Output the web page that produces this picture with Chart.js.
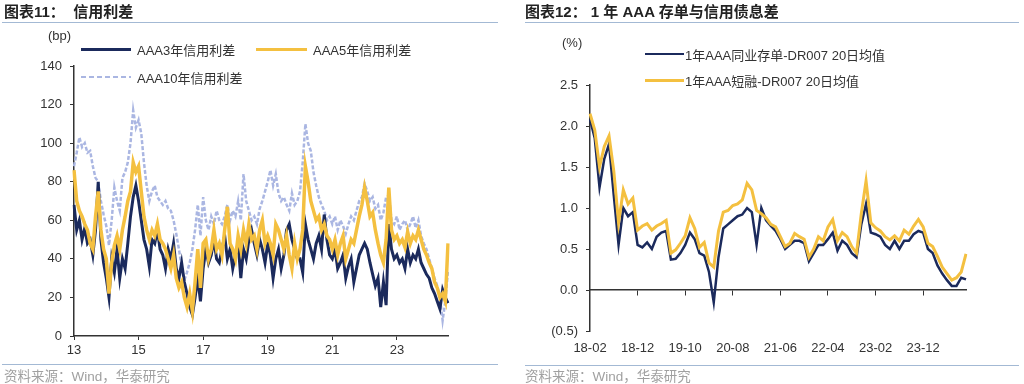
<!DOCTYPE html>
<html>
<head>
<meta charset="utf-8">
<script src="https://cdn.jsdelivr.net/npm/chart.js@4"></script>
<style>
  body { margin: 0; width: 1024px; height: 384px; background: #fff; position: relative; overflow: hidden;
         font-family: "Liberation Sans", "Noto Sans CJK SC", sans-serif; color: #222; }
  .panel { position: absolute; top: 0; width: 512px; height: 384px; }
  .panel canvas { position: absolute; left: 0; top: 0; }
  .title { position: absolute; top: 3px; font-size: 15px; line-height: 18px; font-weight: bold; white-space: nowrap; }
  .rule { position: absolute; height: 1px; background: #a3b9d4; }
  .src { position: absolute; top: 369px; font-size: 13.5px; line-height: 15px; color: #a0a0a0; white-space: nowrap; }
  .unit { position: absolute; font-size: 13px; color: #333; }
  .leg { position: absolute; font-size: 13px; color: #333; white-space: nowrap; display: flex; align-items: center; height: 16px; }
  .sw { display: inline-block; margin-right: 6px; }
</style>
</head>
<body>

<div class="panel" style="left:0">
  <canvas id="spreadChart" width="512" height="384"></canvas>
  <div class="title" style="left:4px">图表11：&nbsp; 信用利差</div>
  <div class="rule" style="left:2px; top:22px; width:496px"></div>
  <div class="unit" style="left:48px; top:28px">(bp)</div>
  <div class="leg" style="left:81px; top:41px"><span class="sw" style="width:50px;height:3px;background:#1b2a5c"></span>AAA3年信用利差</div>
  <div class="leg" style="left:256px; top:41px"><span class="sw" style="width:51px;height:3px;background:#f4c040"></span>AAA5年信用利差</div>
  <div class="leg" style="left:81px; top:69px"><span class="sw" style="width:50px;height:2px;background:repeating-linear-gradient(90deg,#aab6e2 0 5px,transparent 5px 8px)"></span>AAA10年信用利差</div>
  <div class="rule" style="left:2px; top:364px; width:496px"></div>
  <div class="src" style="left:4px">资料来源：Wind，华泰研究</div>
</div>

<div class="panel" style="left:512px">
  <canvas id="ncdChart" width="512" height="384"></canvas>
  <div class="title" style="left:13px">图表12：&nbsp;1 年 AAA 存单与信用债息差</div>
  <div class="rule" style="left:13px; top:22px; width:494px"></div>
  <div class="unit" style="left:50px; top:35px">(%)</div>
  <div class="leg" style="left:133px; top:46px"><span class="sw" style="width:39px;height:2px;margin-right:1px;background:#1b2a5c"></span>1年AAA同业存单-DR007 20日均值</div>
  <div class="leg" style="left:133px; top:72px"><span class="sw" style="width:39px;height:3px;margin-right:1px;background:#f4c040"></span>1年AAA短融-DR007 20日均值</div>
  <div class="rule" style="left:13px; top:365px; width:494px"></div>
  <div class="src" style="left:13px">资料来源：Wind，华泰研究</div>
</div>

<script>
// --- left chart: monthly credit spreads (bp), 2013-01 .. 2024-08 ---
const aaa3Spread = [
  68, 55, 60, 50, 56, 48, 50, 42, 55, 80, 50, 38,
  30, 20, 40, 33, 45, 30, 40, 35, 48, 62, 72, 78,
  70, 60, 50, 45, 36, 50, 48, 55, 45, 42, 35, 45,
  40, 48, 35, 30, 38, 28, 22, 15, 11, 20, 30, 18,
  35, 45, 38, 42, 50, 40, 38, 45, 52, 40, 45, 35,
  42, 48, 30, 45, 40, 50, 55, 48, 42, 50, 45, 38,
  48, 42, 30, 40, 45, 35, 42, 55, 58, 50, 45, 40,
  40, 33, 58, 50, 45, 40, 48, 52, 45, 63, 50, 42,
  40, 45, 35, 38, 42, 30, 36, 40, 28, 35, 42, 45,
  48, 45, 38, 32, 26, 30, 15, 28, 16, 58, 45, 40,
  42, 38, 40, 35, 45, 38, 42, 40, 45, 38, 35, 32,
  30, 25, 22, 18, 14, 24, 20, 17
];
const aaa5Spread = [
  86, 70, 65, 62, 58, 55, 48, 45, 62, 75, 55, 45,
  40, 22, 38, 47, 52, 45, 55, 62, 70, 75, 90, 85,
  88, 75, 62, 55, 50, 55, 52, 58, 50, 48, 45, 40,
  35, 42, 30, 25, 28, 20, 15, 22, 13, 28, 45, 25,
  48, 50, 40, 45, 55, 45, 48, 42, 55, 67, 48, 45,
  40, 52, 45, 55, 48, 58, 50, 52, 45, 55, 60, 48,
  52, 48, 42, 58, 55, 50, 45, 52, 42, 35, 48, 40,
  45, 55, 88, 80, 70, 65, 60, 62, 55, 58, 52, 50,
  45, 50, 42, 48, 52, 40, 45, 50, 48, 55, 62, 68,
  77, 70, 62, 64, 55, 48, 42, 38, 50, 77, 55, 50,
  52, 48, 50, 46, 54, 48, 52, 50, 55, 50, 45, 42,
  38, 35, 28, 25, 20, 22, 18, 48
];
const aaa10Spread = [
  88, 95, 103, 98, 100, 95, 96, 88, 82, 80, 70, 63,
  57, 47, 60, 77, 70, 65, 82, 85, 90, 100, 117, 108,
  112, 105, 90, 78, 70, 75, 78, 72, 70, 68, 70, 66,
  65, 60, 53, 45, 36, 29, 33, 38, 45, 55, 68, 52,
  72, 60, 55, 62, 58, 65, 60, 58, 62, 68, 60, 65,
  62, 70, 60, 84, 70, 65, 60, 62, 58, 66, 70, 75,
  80, 86, 78, 84, 74, 70, 72, 68, 65, 74, 68, 70,
  75, 90, 110, 100, 96, 85, 78, 72, 68, 65, 60, 62,
  58, 62, 55, 60, 57, 53, 58, 62, 60, 65, 70, 72,
  79, 75, 70, 72, 66, 68, 60, 64, 72, 73, 60, 58,
  62, 55, 58, 60, 55, 58, 62, 56, 60, 52, 48, 45,
  40, 35, 30, 26, 20, 8, 18, 34
];

// --- right chart: monthly 20-day averages (%), 2018-02 .. 2024-09 ---
const ncdMinusDr007 = [
  2.08, 1.85, 1.25, 1.60, 1.78, 1.15, 0.55, 1.00, 0.90, 0.95,
  0.55, 0.52, 0.58, 0.50, 0.65, 0.70, 0.72, 0.37, 0.38, 0.45,
  0.55, 0.70, 0.62, 0.45, 0.42, 0.22, -0.15, 0.40, 0.75, 0.80,
  0.85, 0.90, 0.92, 1.00, 0.95, 0.55, 1.00, 0.85, 0.78, 0.72,
  0.62, 0.50, 0.55, 0.60, 0.60, 0.57, 0.35, 0.45, 0.55, 0.55,
  0.62, 0.70, 0.48, 0.60, 0.55, 0.45, 0.40, 0.80, 1.05, 0.70,
  0.68, 0.65, 0.55, 0.50, 0.60, 0.50, 0.60, 0.60, 0.68, 0.72,
  0.70, 0.50, 0.45, 0.30, 0.20, 0.12, 0.05, 0.05, 0.15, 0.13
];
const cpMinusDr007 = [
  2.15, 1.95, 1.50, 1.75, 1.88, 1.45, 0.82, 1.22, 1.05, 1.12,
  0.73, 0.78, 0.81, 0.73, 0.78, 0.81, 0.85, 0.45, 0.49, 0.57,
  0.66, 0.88, 0.75, 0.52, 0.58, 0.33, 0.28, 0.72, 0.95, 0.97,
  1.03, 1.05, 1.10, 1.30, 1.22, 0.97, 0.93, 0.88, 0.80, 0.77,
  0.65, 0.53, 0.57, 0.69, 0.65, 0.62, 0.40, 0.50, 0.65, 0.60,
  0.77, 0.86, 0.60, 0.70, 0.65, 0.53, 0.45, 0.93, 1.33, 0.82,
  0.76, 0.72, 0.65, 0.61, 0.66, 0.60, 0.73, 0.68, 0.78, 0.86,
  0.77, 0.57, 0.53, 0.41, 0.28, 0.20, 0.12, 0.15, 0.22, 0.44
];

// month categories
function monthLabels(year, month, count) {
  const out = [];
  for (let i = 0; i < count; i++) {
    const y = year + Math.floor((month - 1 + i) / 12);
    const m = (month - 1 + i) % 12 + 1;
    out.push(y + '-' + String(m).padStart(2, '0'));
  }
  return out;
}
const spreadMonths = monthLabels(2013, 1, aaa3Spread.length);
const ncdMonths = monthLabels(2018, 2, ncdMinusDr007.length);
const spreadTickEvery = 24;
const ncdTickEvery = 10;

const NAVY = '#1b2a5c';
const GOLD = '#f4c040';
const LAVENDER = '#aab6e2';
const AXIS = '#333';

Chart.defaults.font.family = '"Liberation Sans", "Noto Sans CJK SC", sans-serif';
Chart.defaults.font.size = 13;
Chart.defaults.color = '#333';

const lineBase = { pointRadius: 0, tension: 0, fill: false };

new Chart(document.getElementById('spreadChart'), {
  type: 'line',
  data: {
    labels: spreadMonths,
    datasets: [
      { ...lineBase, label: 'AAA5年信用利差', data: aaa5Spread, borderColor: GOLD, borderWidth: 3.5, order: 1 },
      { ...lineBase, label: 'AAA3年信用利差', data: aaa3Spread, borderColor: NAVY, borderWidth: 3, order: 2 },
      { ...lineBase, label: 'AAA10年信用利差', data: aaa10Spread, borderColor: LAVENDER, borderWidth: 2.5, borderDash: [4, 2], order: 3 }
    ]
  },
  options: {
    responsive: false,
    animation: false,
    layout: { padding: { left: 0, top: 66, right: 64, bottom: 18 } },
    plugins: { legend: { display: false }, tooltip: { enabled: false } },
    scales: {
      x: {
        type: 'category',
        afterFit: s => { s.height = 30; },
        border: { display: true, color: AXIS, width: 1.5 },
        grid: {
          drawOnChartArea: false, drawTicks: true, tickLength: 4,
          tickColor: ctx => ctx.index % spreadTickEvery === 0 ? AXIS : 'rgba(0,0,0,0)'
        },
        ticks: {
          autoSkip: false, maxRotation: 0, padding: 3,
          callback: function (v, i) {
            return i % spreadTickEvery === 0 ? this.getLabelForValue(v).slice(2, 4) : '';
          }
        }
      },
      y: {
        min: 0, max: 140,
        afterFit: s => { s.width = 74; },
        border: { display: true, color: AXIS, width: 1.5 },
        grid: { drawOnChartArea: false, drawTicks: true, tickLength: 4, tickColor: AXIS },
        ticks: { stepSize: 20, padding: 8 }
      }
    }
  }
});

new Chart(document.getElementById('ncdChart'), {
  type: 'line',
  data: {
    labels: ncdMonths,
    datasets: [
      { ...lineBase, label: '1年AAA短融-DR007 20日均值', data: cpMinusDr007, borderColor: GOLD, borderWidth: 3, order: 1 },
      { ...lineBase, label: '1年AAA同业存单-DR007 20日均值', data: ncdMinusDr007, borderColor: NAVY, borderWidth: 2.5, order: 2 }
    ]
  },
  options: {
    responsive: false,
    animation: false,
    layout: { padding: { left: 0, top: 85, right: 58, bottom: 23 } },
    plugins: { legend: { display: false }, tooltip: { enabled: false } },
    scales: {
      x: {
        type: 'category',
        position: { y: 0 },
        border: { display: true, color: AXIS, width: 1.5 },
        grid: {
          drawOnChartArea: false, drawTicks: true, tickLength: 5,
          tickColor: ctx => ctx.index % ncdTickEvery === 0 && ctx.index > 0 ? AXIS : 'rgba(0,0,0,0)'
        },
        ticks: { display: false, autoSkip: false }
      },
      xLabels: {
        type: 'category',
        position: 'bottom',
        afterFit: s => { s.height = 30; },
        border: { display: false },
        grid: { display: false, drawTicks: false },
        ticks: {
          autoSkip: false, maxRotation: 0, padding: 10,
          callback: function (v, i) {
            return i % ncdTickEvery === 0 ? this.getLabelForValue(v).slice(2) : '';
          }
        }
      },
      y: {
        min: -0.5, max: 2.5,
        afterFit: s => { s.width = 78; },
        border: { display: true, color: AXIS, width: 1.5 },
        grid: { drawOnChartArea: false, drawTicks: true, tickLength: 4, tickColor: AXIS },
        ticks: {
          stepSize: 0.5, padding: 8,
          callback: v => v < 0 ? '(' + Math.abs(v).toFixed(1) + ')' : v.toFixed(1)
        }
      }
    }
  }
});
</script>
</body>
</html>
